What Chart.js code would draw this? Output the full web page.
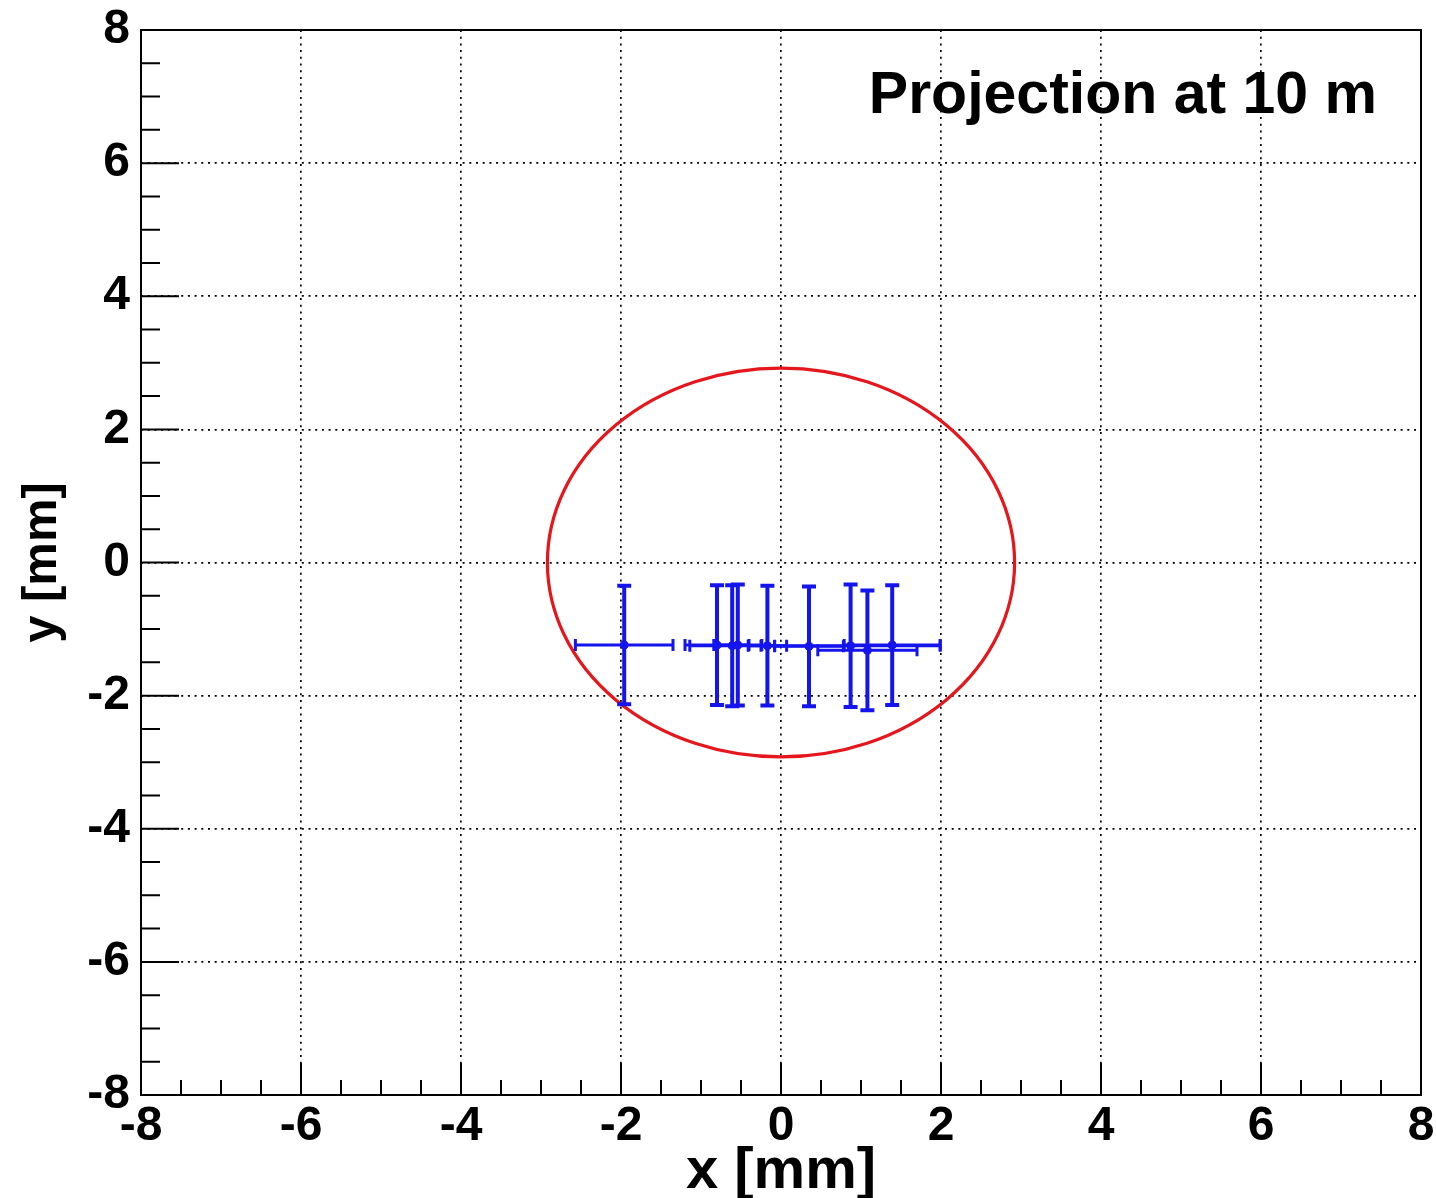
<!DOCTYPE html>
<html>
<head>
<meta charset="utf-8">
<title>Projection at 10 m</title>
<script src="https://cdn.jsdelivr.net/npm/chart.js@4.4.1/dist/chart.umd.min.js"></script>
<style>
  html, body { margin: 0; padding: 0; background: #fff; }
  #wrap { width: 1436px; height: 1198px; }
</style>
</head>
<body>
<div id="wrap"><canvas id="chart" width="1436" height="1198"></canvas></div>
<script>
// beam spot positions at 10 m (mm)
const posX = [-1.96, -0.80, -0.61, -0.54, -0.17, 0.35, 0.87, 1.08, 1.39];
const posY = [-1.24, -1.24, -1.25, -1.24, -1.25, -1.26, -1.25, -1.32, -1.24];
const errX = [0.61, 0.40, 0.53, 0.30, 0.24, 0.43, 1.12, 0.62, 0.60];
const errY = [0.89, 0.90, 0.91, 0.91, 0.90, 0.90, 0.92, 0.90, 0.90];

// acceptance circle (mm)
const circleRadius = 2.92;

// axis ticks
const xTicks = [-8, -6, -4, -2, 0, 2, 4, 6, 8];
const yTicks = [-8, -6, -4, -2, 0, 2, 4, 6, 8];
const minorStep = 0.5;

const blue = '#1414ee';
const red = '#e5161c';
const labelFamily = "'Liberation Sans', Arial, Helvetica, sans-serif";

const points = posX.map((x, i) => ({ x: x, y: posY[i] }));

// ROOT-like extras: circle, error bars, inner ticks, frame, label
const rootDecor = {
    id: 'rootDecor',
    beforeDatasetsDraw(chart) {
        const ctx = chart.ctx;
        const sx = chart.scales.x;
        const sy = chart.scales.y;

        // circle
        let cx = sx.getPixelForValue(0);
        let cy = sy.getPixelForValue(0);
        let rx = Math.abs(sx.getPixelForValue(circleRadius) - cx);
        let ry = Math.abs(sy.getPixelForValue(circleRadius) - cy);
        ctx.save();
        ctx.strokeStyle = red;
        ctx.lineWidth = 3.2;
        ctx.beginPath();
        ctx.ellipse(cx, cy, rx, ry, 0, 0, Math.PI * 2);
        ctx.stroke();

        // error bars
        ctx.strokeStyle = blue;
        for (let i = 0; i < posX.length; i++) {
            let px = sx.getPixelForValue(posX[i]);
            let py = sy.getPixelForValue(posY[i]);
            let x1 = sx.getPixelForValue(posX[i] - errX[i]);
            let x2 = sx.getPixelForValue(posX[i] + errX[i]);
            let y1 = sy.getPixelForValue(posY[i] + errY[i]);
            let y2 = sy.getPixelForValue(posY[i] - errY[i]);

            ctx.lineWidth = 3;
            ctx.beginPath();
            ctx.moveTo(x1, py); ctx.lineTo(x2, py);
            ctx.moveTo(x1, py - 6); ctx.lineTo(x1, py + 6);
            ctx.moveTo(x2, py - 6); ctx.lineTo(x2, py + 6);
            ctx.stroke();

            ctx.lineWidth = 4;
            ctx.beginPath();
            ctx.moveTo(px, y1); ctx.lineTo(px, y2);
            ctx.moveTo(px - 7, y1); ctx.lineTo(px + 7, y1);
            ctx.moveTo(px - 7, y2); ctx.lineTo(px + 7, y2);
            ctx.stroke();
        }
        ctx.restore();
    },
    afterDraw(chart) {
        const ctx = chart.ctx;
        const area = chart.chartArea;
        const sx = chart.scales.x;
        const sy = chart.scales.y;
        ctx.save();
        ctx.strokeStyle = '#000';
        ctx.lineWidth = 2;

        // inner ticks
        ctx.beginPath();
        for (let v = sx.min; v <= sx.max + 1e-9; v += minorStep) {
            let major = xTicks.indexOf(v) >= 0;
            let p = sx.getPixelForValue(v);
            ctx.moveTo(p, area.bottom);
            ctx.lineTo(p, area.bottom - (major ? 32 : 15));
        }
        for (let v = sy.min; v <= sy.max + 1e-9; v += minorStep) {
            let major = yTicks.indexOf(v) >= 0;
            let p = sy.getPixelForValue(v);
            ctx.moveTo(area.left, p);
            ctx.lineTo(area.left + (major ? 38 : 19), p);
        }
        ctx.stroke();

        // frame
        ctx.strokeRect(area.left, area.top, area.right - area.left, area.bottom - area.top);

        // label
        ctx.fillStyle = '#000';
        ctx.font = 'bold 59px ' + labelFamily;
        ctx.textAlign = 'right';
        ctx.textBaseline = 'alphabetic';
        ctx.fillText('Projection at 10 m', area.right - 44, area.top + 83);
        ctx.restore();
    }
};

const tickFont = { family: labelFamily, size: 48, weight: 'bold' };

const config = {
    type: 'scatter',
    data: {
        datasets: [{
            label: 'beam spot',
            data: points,
            pointRadius: 4,
            pointHoverRadius: 4,
            pointBackgroundColor: blue,
            pointBorderColor: blue,
            showLine: false
        }]
    },
    options: {
        responsive: false,
        animation: false,
        layout: { padding: { top: 30, right: 15, left: 0, bottom: 0 } },
        plugins: {
            legend: { display: false },
            tooltip: { enabled: false },
            title: { display: false }
        },
        scales: {
            x: {
                type: 'linear',
                min: -8,
                max: 8,
                afterBuildTicks: (s) => { s.ticks = xTicks.map(v => ({ value: v })); },
                afterFit: (s) => { s.height = 103; s.paddingLeft = 0; s.paddingRight = 0; },
                grid: { color: '#000', lineWidth: 1.7, drawTicks: false },
                border: { display: false, dash: [2, 4.7] },
                ticks: { font: tickFont, color: '#000', padding: 3, maxRotation: 0, autoSkip: false },
                title: {
                    display: true,
                    text: 'x [mm]',
                    color: '#000',
                    font: { family: labelFamily, size: 58, weight: 'bold', lineHeight: 1 },
                    padding: { top: 0, bottom: -3 }
                }
            },
            y: {
                type: 'linear',
                min: -8,
                max: 8,
                afterBuildTicks: (s) => { s.ticks = yTicks.map(v => ({ value: v })); },
                afterFit: (s) => { s.width = 141; s.paddingTop = 0; s.paddingBottom = 0; },
                grid: { color: '#000', lineWidth: 1.7, drawTicks: false },
                border: { display: false, dash: [2, 4.7] },
                ticks: { font: tickFont, color: '#000', padding: 11, autoSkip: false },
                title: {
                    display: true,
                    text: 'y [mm]',
                    color: '#000',
                    font: { family: labelFamily, size: 49, weight: 'bold', lineHeight: 1 },
                    padding: { top: 18, bottom: 0 }
                }
            }
        }
    },
    plugins: [rootDecor]
};

new Chart(document.getElementById('chart').getContext('2d'), config);
</script>
</body>
</html>
